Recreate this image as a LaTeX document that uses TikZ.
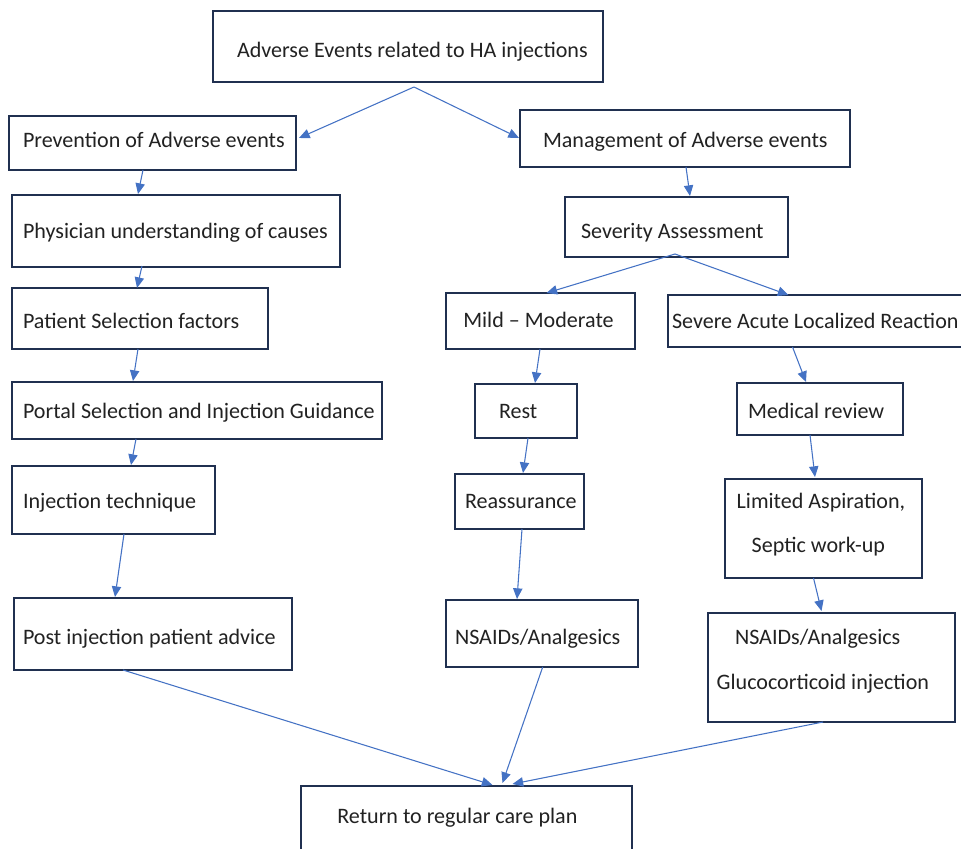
\documentclass[tikz,border=0pt]{standalone}
\usepackage{fontspec}
\setmainfont{Carlito}
\usetikzlibrary{arrows.meta,calc}
\definecolor{boxc}{HTML}{203050}
\definecolor{arrc}{HTML}{4472C4}
\definecolor{textc}{HTML}{222222}
\newcommand\mybox[5]{\node[box, minimum width={(#4-#2)*0.75pt}, minimum height={(#5-#3)*0.75pt}] (#1) at ({(#2+#4)/2},{(#3+#5)/2}) {};}
\tikzset{
  box/.style={draw=boxc, line width=1.4pt, fill=white, inner sep=0pt, outer sep=0pt, rectangle},
  txt/.style={inner sep=0pt, outer sep=0pt, anchor=base west, text=textc, font=\fontsize{16.55}{19.9}\selectfont},
  arr/.style={draw=arrc, line width=0.8pt, -{Triangle[length=8pt,width=7pt]}}
}
\begin{document}
\begin{tikzpicture}[x=0.75pt,y=-0.75pt]
\path[use as bounding box, clip] (0,0) rectangle (961,849);
% boxes
\mybox{top}{213}{11}{603}{82}
\mybox{prev}{9}{116}{296}{170}
\mybox{mgmt}{520}{110}{850}{167}
\mybox{phys}{12}{195}{340}{267}
\mybox{sev}{565}{197}{788}{257}
\mybox{pat}{12}{288}{268}{349}
\mybox{mild}{446}{293}{635}{349}
\mybox{severe}{668}{295}{980}{347}
\mybox{portal}{12}{382}{382}{439}
\mybox{rest}{475}{384}{577}{438}
\mybox{med}{737}{383}{903}{435}
\mybox{inj}{12}{466}{215}{534}
\mybox{reas}{455}{474}{584}{529}
\mybox{lim}{725}{479}{922}{578}
\mybox{post}{14}{598}{292}{670}
\mybox{nsm}{446}{600}{638}{667}
\mybox{nsr}{708}{613}{955}{722}
\mybox{ret}{301}{786}{632}{880}
% texts
\node[txt] (ttop) at (237,57.7) {Adverse Events related to HA injections};
\node[txt] (tprev) at (23,147) {Prevention of Adverse events};
\node[txt] (tmgmt) at (543,147) {Management of Adverse events};
\node[txt] (tphys) at (23,238) {Physician understanding of causes};
\node[txt] (tsev) at (581,238) {Severity Assessment};
\node[txt] (tpat) at (23,328) {Patient Selection factors};
\node[txt] (tmild) at (463.3,327.7) {Mild – Moderate};
\node[txt] (tsevere) at (672,328) {Severe Acute Localized Reaction};
\node[txt] (tportal) at (23,418) {Portal Selection and Injection Guidance};
\node[txt] (trest) at (499,418) {Rest};
\node[txt] (tmed) at (748,418) {Medical review};
\node[txt] (tinj) at (23,508) {Injection technique};
\node[txt] (treas) at (465,508) {Reassurance};
\node[txt] (tlim1) at (736.7,508.3) {Limited Aspiration,};
\node[txt] (tlim2) at (751.7,552.7) {Septic work-up};
\node[txt] (tpost) at (23,644) {Post injection patient advice};
\node[txt] (tnsm) at (455,644) {NSAIDs/Analgesics};
\node[txt] (tnsr1) at (735,644) {NSAIDs/Analgesics};
\node[txt] (tnsr2) at (716.7,689.3) {Glucocorticoid injection};
\node[txt] (tret) at (337.3,823.3) {Return to regular care plan};
% arrows
\draw[arr] ($(top.south)+(6,5)$) -- ($(prev.east)+(3,-5)$);
\draw[arr] ($(top.south)+(6,5)$) -- ($(mgmt.west)+(-1,-0.5)$);
\draw[arr] ($(prev.south)+(-9.5,0)$) -- ($(phys.north)+(-38,-1)$);
\draw[arr] ($(phys.south)+(-34,-1)$) -- ($(pat.north)+(-3,0)$);
\draw[arr] ($(pat.south)+(-2,0)$) -- ($(portal.north)+(-64,-1)$);
\draw[arr] ($(portal.south)+(-61,0)$) -- ($(inj.north)+(17.5,-1)$);
\draw[arr] ($(inj.south)+(10.5,0)$) -- ($(post.north)+(-38,-1)$);
\draw[arr] ($(mgmt.south)+(1,0)$) -- ($(sev.north)+(13.5,-1)$);
\draw[arr] ($(sev.south)+(-1.5,-3)$) -- ($(mild.north)+(6,0)$);
\draw[arr] ($(sev.south)+(-1.5,-3)$) -- ($(severe.north)+(-35.5,0)$);
\draw[arr] ($(mild.south)+(-0.5,0)$) -- ($(rest.north)+(9,-1)$);
\draw[arr] ($(rest.south)+(2,0)$) -- ($(reas.north)+(3.5,-1)$);
\draw[arr] ($(reas.south)+(2.5,0)$) -- ($(nsm.north)+(-25,-1)$);
\draw[arr] ($(severe.south)+(-31.5,0)$) -- ($(med.north)+(-14,-1)$);
\draw[arr] ($(med.south)+(-10,0)$) -- ($(lim.north)+(-8.5,-2)$);
\draw[arr] ($(lim.south)+(-10,0)$) -- ($(nsr.north)+(-10,-2)$);
\draw[arr] ($(post.south)+(-30,0)$) -- ($(ret.north)+(26,-1)$);
\draw[arr] ($(nsm.south)+(0.7,0)$) -- ($(ret.north)+(36,-3)$);
\draw[arr] ($(nsr.south)+(-8.5,0)$) -- ($(ret.north)+(46,-2)$);
\end{tikzpicture}
\end{document}
